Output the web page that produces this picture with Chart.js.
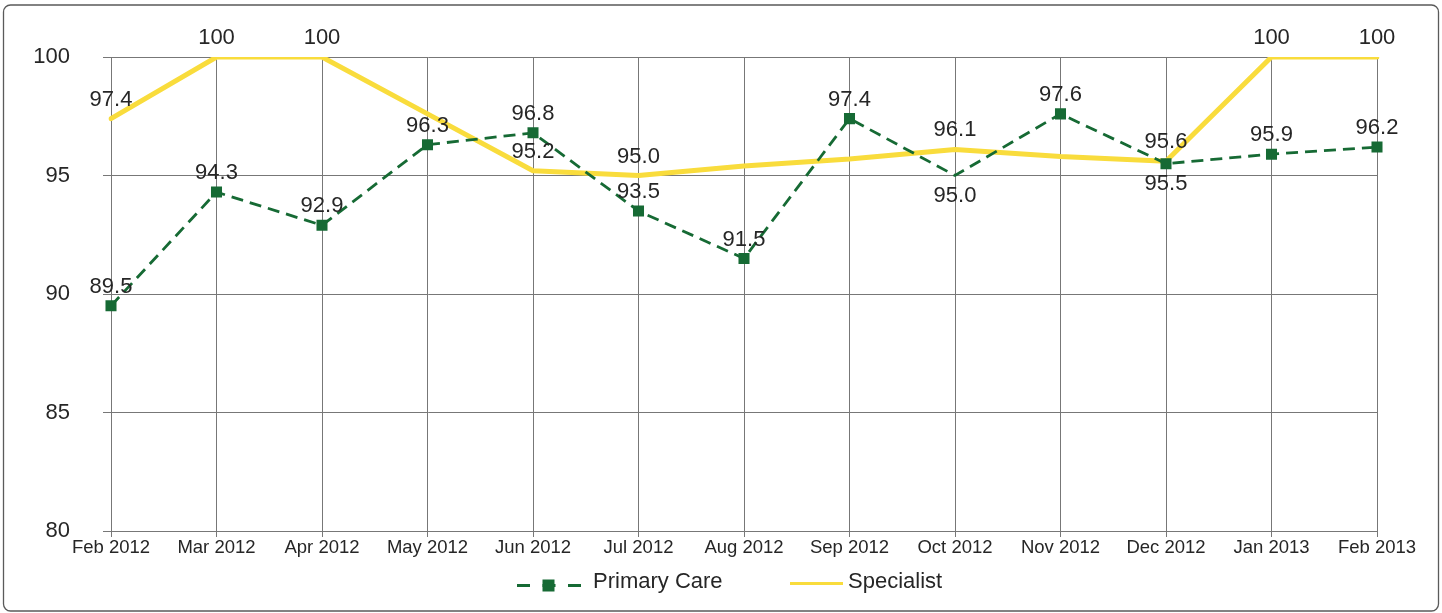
<!DOCTYPE html>
<html>
<head>
<meta charset="utf-8">
<script src="https://cdn.jsdelivr.net/npm/chart.js@4.4.1/dist/chart.umd.min.js"></script>
<style>
  html, body { margin: 0; padding: 0; background: #ffffff; }
  #wrap { width: 1442px; height: 613px; position: relative; }
  canvas { display: block; }
</style>
</head>
<body>
<div id="wrap"><canvas id="chart" width="1442" height="613"></canvas></div>
<script>
// Monthly categories along the x axis
const months = ['Feb 2012', 'Mar 2012', 'Apr 2012', 'May 2012', 'Jun 2012', 'Jul 2012',
  'Aug 2012', 'Sep 2012', 'Oct 2012', 'Nov 2012', 'Dec 2012', 'Jan 2013', 'Feb 2013'];

// Series values (percent)
const primaryCare = [89.5, 94.3, 92.9, 96.3, 96.8, 93.5, 91.5, 97.4, 95.0, 97.6, 95.5, 95.9, 96.2];
const specialist  = [97.4, 100, 100, 97.6, 95.2, 95.0, 95.4, 95.7, 96.1, 95.8, 95.6, 100, 100];

// Value axis range and step
const yMin = 80;
const yMax = 100;
const yStep = 5;

const GREEN = '#166a34';
const YELLOW = '#f9dc3c';
const GRID = '#777777';
const TEXT = '#262626';
const FONT = '"Liberation Sans", Arial, sans-serif';

// Writes each point's value next to it
const valueLabels = {
  id: 'valueLabels',
  afterDatasetsDraw(chart) {
    const ctx = chart.ctx;
    ctx.save();
    ctx.font = '22px ' + FONT;
    ctx.fillStyle = TEXT;
    ctx.textAlign = 'center';
    ctx.textBaseline = 'middle';
    chart.data.datasets.forEach((ds, di) => {
      const meta = chart.getDatasetMeta(di);
      const cfg = ds.valueLabels || {};
      const hidden = cfg.hidden || [];
      const below = cfg.below || [];
      meta.data.forEach((pt, i) => {
        if (hidden.includes(i)) return;
        const v = ds.data[i];
        const text = v >= 100 ? String(Math.round(v)) : v.toFixed(1);
        const dy = below.includes(i) ? 20 : -19;
        ctx.fillText(text, pt.x, pt.y + dy);
      });
    });
    ctx.restore();
  }
};

// Rounded frame plus the legend row underneath the plot
const frameAndLegend = {
  id: 'frameAndLegend',
  afterDraw(chart) {
    const ctx = chart.ctx;
    ctx.save();
    // frame
    ctx.strokeStyle = '#5a5a5a';
    ctx.lineWidth = 1.3;
    ctx.beginPath();
    ctx.roundRect(3.5, 5, 1435, 606, 7);
    ctx.stroke();

    // legend: Primary Care
    const ly = 585.5;
    ctx.strokeStyle = GREEN;
    ctx.lineWidth = 2.8;
    ctx.setLineDash([13, 12.5]);
    ctx.beginPath();
    ctx.moveTo(517, ly);
    ctx.lineTo(581, ly);
    ctx.stroke();
    ctx.setLineDash([]);
    ctx.fillStyle = GREEN;
    ctx.fillRect(542.5, ly - 6, 12, 12);

    ctx.font = '22px ' + FONT;
    ctx.fillStyle = TEXT;
    ctx.textAlign = 'left';
    ctx.textBaseline = 'middle';
    ctx.fillText('Primary Care', 593, 582);

    // legend: Specialist
    ctx.strokeStyle = YELLOW;
    ctx.lineWidth = 3;
    ctx.beginPath();
    ctx.moveTo(790, 583.5);
    ctx.lineTo(843, 583.5);
    ctx.stroke();
    ctx.fillStyle = TEXT;
    ctx.fillText('Specialist', 848, 582);
    ctx.restore();
  }
};

new Chart(document.getElementById('chart'), {
  type: 'line',
  data: {
    labels: months,
    datasets: [
      {
        label: 'Primary Care',
        data: primaryCare,
        borderColor: GREEN,
        backgroundColor: GREEN,
        borderWidth: 2.8,
        borderDash: [12, 7],
        tension: 0,
        pointStyle: 'rect',
        pointRadius: primaryCare.map((v, i) => (i === 8 ? 0 : 7.8)),
        pointBorderWidth: 0,
        pointBackgroundColor: GREEN,
        valueLabels: { below: [8, 10], hidden: [] }
      },
      {
        label: 'Specialist',
        data: specialist,
        borderColor: YELLOW,
        backgroundColor: YELLOW,
        borderWidth: 5,
        tension: 0,
        pointRadius: 0,
        borderCapStyle: 'round',
        borderJoinStyle: 'round',
        valueLabels: { below: [], hidden: [3, 6, 7, 9] }
      }
    ]
  },
  options: {
    responsive: false,
    animation: false,
    devicePixelRatio: 1,
    layout: { padding: { top: 57, right: 65, bottom: 52, left: 0 } },
    plugins: {
      legend: { display: false },
      title: { display: false },
      tooltip: { enabled: false }
    },
    scales: {
      x: {
        offset: false,
        afterFit(scale) { scale.height = 30; },
        grid: { color: GRID, lineWidth: 1, tickLength: 6, drawTicks: true },
        border: { display: true, color: GRID },
        ticks: {
          color: TEXT,
          font: { family: FONT, size: 18.5 },
          padding: 0,
          maxRotation: 0,
          autoSkip: false
        }
      },
      y: {
        min: yMin,
        max: yMax,
        afterFit(scale) { scale.width = 111; },
        grid: { color: GRID, lineWidth: 1, tickLength: 8 },
        border: { display: true, color: GRID },
        ticks: {
          stepSize: yStep,
          color: TEXT,
          font: { family: FONT, size: 22 },
          padding: 33
        }
      }
    }
  },
  plugins: [valueLabels, frameAndLegend]
});
</script>
</body>
</html>
